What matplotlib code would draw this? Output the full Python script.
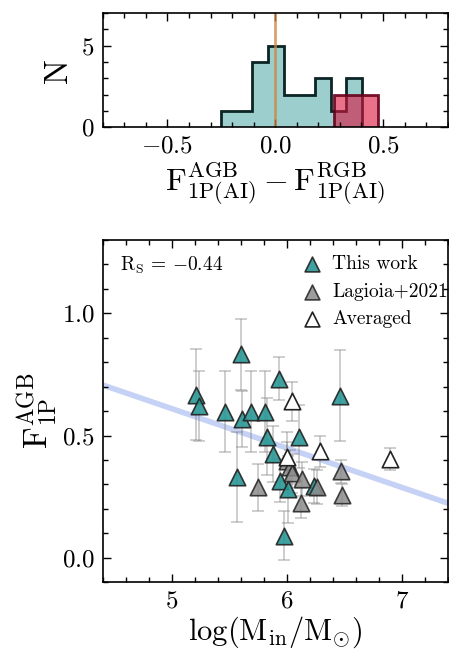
import numpy as np
import matplotlib
matplotlib.use('Agg')
import matplotlib.pyplot as plt
from matplotlib.ticker import MultipleLocator

plt.rcParams['font.family'] = 'cmr10'
plt.rcParams['mathtext.fontset'] = 'cm'
plt.rcParams['axes.formatter.use_mathtext'] = True
plt.rcParams['axes.unicode_minus'] = True

# histogram of F_1P(AI) differences
teal_edges = [-0.252, -0.179, -0.106, -0.034, 0.039, 0.112, 0.184, 0.257, 0.330, 0.402]
teal_counts = [1, 1, 4, 5, 2, 2, 3, 1, 3]
red_edges = [0.273, 0.340, 0.408, 0.475]
red_counts = [2, 2, 2]

# This work
tw_logm = [5.60, 5.21, 5.24, 5.46, 5.61, 5.69, 5.81, 5.93, 6.46, 6.11, 5.83, 5.88, 5.57, 5.94, 6.01, 5.98, 6.24]
tw_f1p = [0.832, 0.666, 0.621, 0.598, 0.568, 0.598, 0.598, 0.733, 0.662, 0.496, 0.496, 0.424, 0.330, 0.315, 0.281, 0.091, 0.295]
tw_err = [0.145, 0.186, 0.142, 0.166, 0.115, 0.166, 0.166, 0.088, 0.186, 0.13, 0.157, 0.116, 0.185, 0.087, 0.137, 0.10, 0.07]

# Lagioia+2021
lg_logm = [5.75, 6.00, 6.03, 6.05, 6.13, 6.26, 6.12, 6.47, 6.48]
lg_f1p = [0.288, 0.395, 0.372, 0.345, 0.323, 0.290, 0.224, 0.353, 0.258]
lg_err = [0.095, 0.08, 0.07, 0.08, 0.07, 0.07, 0.06, 0.047, 0.045]

# averaged
av_logm = [6.05, 6.00, 6.29, 6.90]
av_f1p = [0.640, 0.414, 0.435, 0.404]
av_err = [0.08, 0.10, 0.062, 0.047]

fit_slope = -0.161
fit_intercept = 1.415
rs_value = -0.44

fig = plt.figure(figsize=(4.49, 6.52), dpi=100)
ax1 = fig.add_axes([0.229, 0.805, 0.768, 0.175])
ax2 = fig.add_axes([0.229, 0.107, 0.768, 0.525])

# top panel
ax1.stairs(teal_counts, teal_edges, fill=True, facecolor=(0.23, 0.62, 0.62, 0.5),
           edgecolor='#0b2424', lw=2)
ax1.stairs(red_counts, red_edges, fill=True, facecolor=(0.86, 0.08, 0.24, 0.6),
           edgecolor=(0.4, 0.0, 0.1, 0.9), lw=2)
ax1.axvline(0, color='peru', lw=2, alpha=0.75)
ax1.set_xlim(-0.8, 0.8)
ax1.set_ylim(0, 7)
ax1.xaxis.set_major_locator(MultipleLocator(0.5))
ax1.xaxis.set_minor_locator(MultipleLocator(0.1))
ax1.yaxis.set_major_locator(MultipleLocator(5))
ax1.yaxis.set_minor_locator(MultipleLocator(1))
ax1.set_ylabel('N', fontsize=24, labelpad=6)
ax1.set_xlabel(r'$\mathrm{F^{AGB}_{1P(AI)} - F^{RGB}_{1P(AI)}}$', fontsize=23, labelpad=2)

# bottom panel
ebkw = dict(fmt='none', ecolor='grey', alpha=0.45, capsize=4, elinewidth=1.2, capthick=1.2)
ax2.errorbar(tw_logm, tw_f1p, yerr=tw_err, **ebkw)
ax2.errorbar(lg_logm, lg_f1p, yerr=lg_err, **ebkw)
ax2.errorbar(av_logm, av_f1p, yerr=av_err, **ebkw)

xfit = np.array([4.4, 7.4])
ax2.plot(xfit, fit_intercept + fit_slope * xfit, color='royalblue', alpha=0.3, lw=4, zorder=1)

ax2.scatter(tw_logm, tw_f1p, marker='^', s=140, c='#2a9896', edgecolors='#222222',
            linewidths=1.2, alpha=0.9, label='This work', zorder=3)
ax2.scatter(lg_logm, lg_f1p, marker='^', s=140, c='#8c8c8c', edgecolors='#222222',
            linewidths=1.2, alpha=0.85, label='Lagioia+2021', zorder=3)
ax2.scatter(av_logm, av_f1p, marker='^', s=140, facecolors='white', edgecolors='#222222',
            linewidths=1.2, label='Averaged', zorder=3)

ax2.text(0.05, 0.925, r'$\mathrm{R_S}$ = ' + r'$%.2f$' % rs_value, transform=ax2.transAxes,
         fontsize=14, ha='left', va='center')
ax2.legend(loc='upper right', bbox_to_anchor=(1.035, 0.99), frameon=False, fontsize=14,
           handletextpad=0.45, borderaxespad=0.0, labelspacing=0.5, markerscale=0.9,
           borderpad=0.6, handlelength=1.2)

ax2.set_xlim(4.4, 7.4)
ax2.set_ylim(-0.1, 1.3)
ax2.xaxis.set_major_locator(MultipleLocator(1))
ax2.xaxis.set_minor_locator(MultipleLocator(0.2))
ax2.yaxis.set_major_locator(MultipleLocator(0.5))
ax2.yaxis.set_minor_locator(MultipleLocator(0.1))
ax2.set_ylabel(r'$\mathrm{F^{AGB}_{1P}}$', fontsize=24, labelpad=2)
ax2.set_xlabel(r'$\log(\mathrm{M_{in}/M_{\odot}})$', fontsize=22, labelpad=1)

for ax in (ax1, ax2):
    ax.tick_params(which='both', direction='in', top=True, right=True, labelsize=18)
    ax.tick_params(which='major', length=6, width=1, pad=6)
    ax.tick_params(which='minor', length=3.5, width=1)
    for sp in ax.spines.values():
        sp.set_linewidth(1.2)

fig.savefig('out.png', dpi=100)
